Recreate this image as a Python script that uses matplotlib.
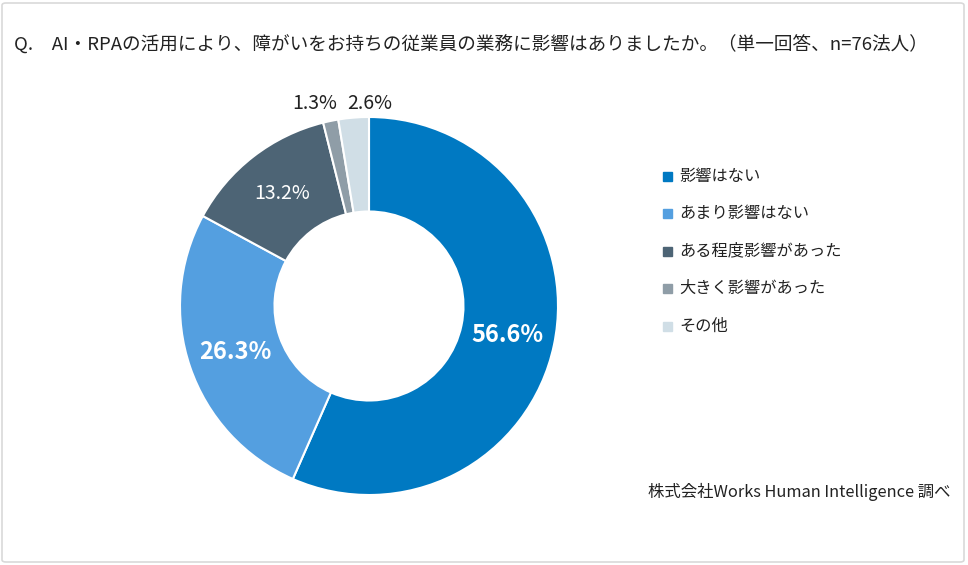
import numpy as np
import matplotlib.pyplot as plt
from matplotlib.patches import FancyBboxPatch, Rectangle

plt.rcParams['font.family'] = ['Noto Sans CJK JP', 'DejaVu Sans']

# data
categories = ['影響はない', 'あまり影響はない', 'ある程度影響があった', '大きく影響があった', 'その他']
values = [56.6, 26.3, 13.2, 1.3, 2.6]
colors = ['#0079C2', '#549FE0', '#4D6475', '#8F9DA7', '#D0DEE6']
title = 'Q.\u3000AI・RPAの活用により、障がいをお持ちの従業員の業務に影響はありましたか。（単一回答、n=76法人）'
source = '株式会社Works Human Intelligence 調べ'

W, H = 968, 565
fig = plt.figure(figsize=(W / 100, H / 100), dpi=100)
fig.patch.set_facecolor('white')

# outer frame
frame = FancyBboxPatch((2 / W, 3 / H), (W - 6) / W, (H - 6) / H,
                       boxstyle='round,pad=0,rounding_size=0.004',
                       transform=fig.transFigure, fill=False,
                       ec='#d9d9d9', lw=1.2)
fig.patches.append(frame)

fig.text(14 / W, 1 - 45 / H, title, fontsize=13.4, color='#222222', va='center', ha='left')

# donut
cx, cy, R = 369, 306, 189
ax = fig.add_axes([(cx - R) / W, (H - cy - R) / H, 2 * R / W, 2 * R / H])
wedges, _ = ax.pie(values, colors=colors, startangle=90, counterclock=False,
                   radius=1, wedgeprops=dict(width=0.5, edgecolor='white', linewidth=1.5))
ax.set_xlim(-1, 1)
ax.set_ylim(-1, 1)
ax.axis('off')

total = sum(values)
cum = 0
for i, v in enumerate(values):
    mid = 90 - (cum + v / 2) / total * 360
    cum += v
    a = np.radians(mid)
    lab = f'{v:.1f}%'
    if i < 2:
        ax.text(0.75 * np.cos(a), 0.75 * np.sin(a), lab, color='white',
                fontsize=17, fontweight='bold', ha='center', va='center')
    elif i == 2:
        ax.text(0.75 * np.cos(a), 0.75 * np.sin(a), lab, color='white',
                fontsize=14, ha='center', va='center')
    else:
        # small slices labelled above the ring
        dx = {3: -0.07, 4: 0.09}[i]
        ax.text(1.07 * np.cos(a) + dx, 1.07, lab, color='#222222',
                fontsize=14, ha='center', va='center', clip_on=False)

# legend
for i, (c, lab) in enumerate(zip(colors, categories)):
    y = 1 - (176 + i * 37.5) / H
    fig.patches.append(Rectangle((663 / W, y - 4.5 / H), 9 / W, 9 / H,
                                 transform=fig.transFigure, color=c))
    fig.text(679 / W, y, lab, fontsize=11.7, color='#222222', va='center', ha='left')

fig.text(950 / W, 1 - 492 / H, source, fontsize=11.8, color='#222222', va='center', ha='right')

fig.savefig('out.png', dpi=100)
